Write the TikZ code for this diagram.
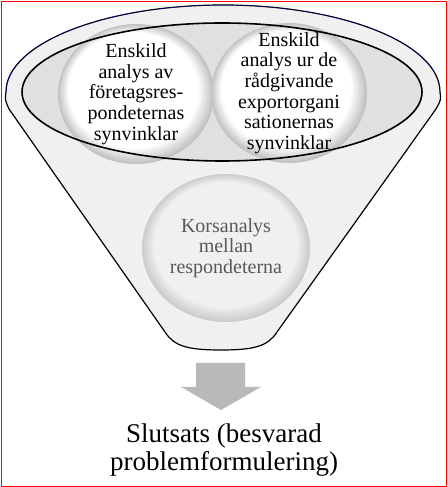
\documentclass[tikz,border=0pt]{standalone}
\usepackage{fontspec}
\setmainfont{Liberation Serif}
\usetikzlibrary{shapes.geometric}
\begin{document}
\begin{tikzpicture}[x=1pt,y=1pt,
	cirkel/.style={ellipse,inner sep=0pt,align=center,font=\fontsize{20}{20.7}\selectfont},
	]
	\useasboundingbox (0,0) rectangle (447,487);
	\draw[red] (1,1) rectangle (446,486);
	\draw[line width=1.2pt,fill=gray!12] (6,395) .. controls (6,443) and (103,482) .. (223,482)
		.. controls (343,482) and (440,443) .. (440,395)
		.. controls (441,387) .. (436,378) -- (277,155) .. controls (268,141) and (255,137) .. (221,137)
		.. controls (187,137) and (174,141) .. (165,155) -- (9,378) .. controls (5,387) .. (6,395) -- cycle;
	\fill[gray!24] (222,395) ellipse[x radius=200pt,y radius=69pt];
	% glossy circles, layer by layer
	\foreach \cx/\cy in {136/393,289/394}
	\foreach \k in {0,...,12}{
		\pgfmathsetmacro\g{max(0,48-5*\k)}
		\pgfmathsetmacro\rx{78-1.3*\k}
		\pgfmathsetmacro\ry{70-1.2*\k}
		\fill[gray!\g] (\cx-0.25*\k,\cy+0.35*\k) ellipse[x radius=\rx pt,y radius=\ry pt];
	}
	\foreach \k in {0,...,10}{
		\pgfmathsetmacro\g{40-2.8*\k}
		\pgfmathsetmacro\rx{84-1.2*\k}
		\pgfmathsetmacro\ry{74-1.1*\k}
		\fill[gray!\g] (226,239+0.3*\k) ellipse[x radius=\rx pt,y radius=\ry pt];
	}
	\node[cirkel,minimum width=156pt,minimum height=140pt] (foretag) at (136,393)
		{Enskild\\analys av\\företagsres-\\pondeternas\\synvinklar};
	\node[cirkel,minimum width=156pt,minimum height=140pt] (export) at (289,394)
		{Enskild\\analys ur de\\rådgivande\\exportorgani\\sationernas\\synvinklar};
	\draw[line width=1.6pt] (222,395) ellipse[x radius=200pt,y radius=69pt];
	\node[cirkel,text=black!65,minimum width=168pt,minimum height=148pt] (kors) at (226,239)
		{Korsanalys\\mellan\\respondeterna};
	\fill[gray!55] (196,124) -- (245,124) -- (245,100) -- (261,100)
		-- (221,77) -- (181,100) -- (196,100) -- cycle;
	\node[align=center,font=\fontsize{27}{28}\selectfont] (slutsats) at (224,37)
		{Slutsats (besvarad\\problemformulering)};
	\draw[blue,dashed] (6,395) .. controls (6,443) and (103,482) .. (223,482)
		.. controls (343,482) and (440,443) .. (440,395);
\end{tikzpicture}
\end{document}
